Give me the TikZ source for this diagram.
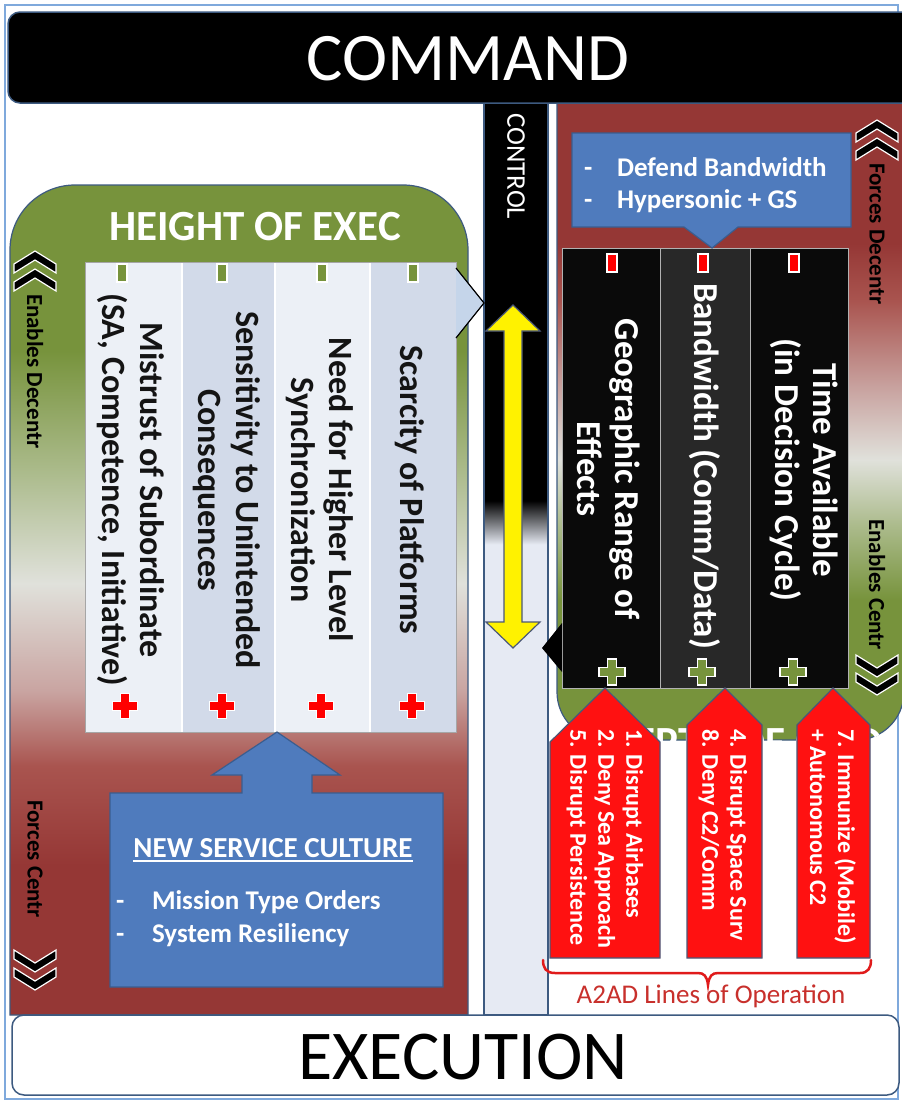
\documentclass[tikz,border=0pt]{standalone}
\usepackage{fontspec}
\setmainfont{Carlito}

\definecolor{dred}{HTML}{953735}
\definecolor{midred}{HTML}{A9544F}
\definecolor{pinkish}{HTML}{C9A4A1}
\definecolor{pale}{HTML}{E0E1DB}
\definecolor{lightgreen}{HTML}{ADBC8E}
\definecolor{pgreen}{HTML}{77933C}
\definecolor{stripbg}{HTML}{E6EAF3}
\definecolor{framecol}{HTML}{7FA9DC}
\definecolor{edgeblue}{HTML}{3D5A80}
\definecolor{boxblue}{HTML}{4F7BBD}
\definecolor{boxedge}{HTML}{3A5D8F}
\definecolor{arrowred}{HTML}{FF1111}
\definecolor{arrowedge}{HTML}{4B5878}
\definecolor{bracered}{HTML}{E01B1B}
\definecolor{labelred}{HTML}{C8302C}
\definecolor{colA}{HTML}{ECF0F6}
\definecolor{colB}{HTML}{D2DAE9}
\definecolor{tipblue}{HTML}{C5D5EA}
\definecolor{rblack}{HTML}{0A0A0A}
\definecolor{rgray}{HTML}{282828}
\definecolor{darktext}{HTML}{141414}

% vertical colour runs of the two panels and of the control strip
\pgfdeclareverticalshading{leftpanel}{100bp}{color(0bp)=(dred); color(34bp)=(dred); color(40bp)=(midred); color(44.5bp)=(pinkish); color(51bp)=(pale); color(57.5bp)=(lightgreen); color(65bp)=(pgreen); color(100bp)=(pgreen)}
\pgfdeclareverticalshading{rightpanel}{100bp}{color(0bp)=(pgreen); color(36bp)=(pgreen); color(42bp)=(lightgreen); color(47bp)=(pale); color(52.5bp)=(pinkish); color(59.5bp)=(midred); color(64bp)=(dred); color(100bp)=(dred)}
\pgfdeclareverticalshading{controlstrip}{100bp}{color(0bp)=(stripbg); color(50.8bp)=(stripbg); color(53.2bp)=(black); color(100bp)=(black)}

\newcommand\fsz[2]{\fontsize{#1}{#2}\selectfont}

\tikzset{
  every node/.style={inner sep=0pt, outer sep=0pt},
  vtext/.style={rotate=-90},
  lefttab/.style={vtext, align=center, text=darktext, font=\bfseries\fsz{34}{38}},
  righttab/.style={vtext, align=center, text=white, font=\bfseries\fsz{35}{38}},
  arrowtext/.style={vtext, align=left, anchor=west, text=white, font=\bfseries\fsz{24}{28}},
  sidetext/.style={vtext, text=black, font=\bfseries\fsz{23}{26}},
  bluebox/.style={fill=boxblue, draw=boxedge, line width=1.2pt},
  redarrow/.style={fill=arrowred, draw=arrowedge, line width=1.2pt},
  pics/plusmark/.style={code={
    \filldraw[fill=#1, draw=white, line width=1.4pt]
      (-4.5,-13) -- (4.5,-13) -- (4.5,-4.5) -- (13,-4.5) -- (13,4.5) -- (4.5,4.5)
      -- (4.5,13) -- (-4.5,13) -- (-4.5,4.5) -- (-13,4.5) -- (-13,-4.5) -- (-4.5,-4.5) -- cycle;}},
  pics/barmark/.style={code={
    \filldraw[fill=#1, draw=white, line width=1.4pt] (-5,-9) rectangle (5,9);}},
  pics/chevup/.style={code={
    \filldraw[fill=black, draw=white, line width=1.2pt]
      (0,0) -- (21,13) -- (21,22) -- (0,9) -- (-21,22) -- (-21,13) -- cycle;}},
  pics/chevdown/.style={code={
    \filldraw[fill=black, draw=white, line width=1.2pt]
      (0,0) -- (21,-13) -- (21,-22) -- (0,-9) -- (-21,-22) -- (-21,-13) -- cycle;}},
}

\begin{document}
\begin{tikzpicture}[x=1pt,y=-1pt]
\useasboundingbox (0,0) rectangle (902,1103);
\clip (0,0) rectangle (902,1103);
\fill[white] (0,0) rectangle (902,1103);
\draw[framecol, line width=1.5pt] (5,5) rectangle (898,1099);

% ---------- panels ----------
\shadedraw[shading=leftpanel, draw=edgeblue, line width=1.2pt]
  (10,1015) -- (10,250) .. controls (10,214) and (39,185) .. (75,185)
  -- (403,185) .. controls (439,185) and (468,214) .. (468,250) -- (468,1015) -- cycle;

\shadedraw[shading=rightpanel, draw=edgeblue, line width=1.2pt]
  (557,103) -- (557,692) .. controls (557,718.5) and (578.5,740) .. (605,740)
  -- (856,740) .. controls (882.5,740) and (904,718.5) .. (904,692) -- (904,103) -- cycle;

\begin{scope}
  \clip (557,103) -- (557,692) .. controls (557,718.5) and (578.5,740) .. (605,740)
    -- (856,740) .. controls (882.5,740) and (904,718.5) .. (904,692) -- (904,103) -- cycle;
  \node[text=white, font=\bfseries\fsz{43}{48}, anchor=base] (depthcmd) at (745,756) {DEPTH OF CMD};
\end{scope}

\shadedraw[shading=controlstrip, draw=edgeblue, line width=1.2pt] (484,103) rectangle (548,1015);

% ---------- command / execution bars ----------
\draw[fill=black, draw=edgeblue, line width=1.5pt, rounded corners=12pt] (8,12) rectangle (930,103);
\node[text=white, font=\fsz{68}{72}, anchor=base] (command) at (468,80) {COMMAND};

\draw[fill=white, draw=edgeblue, line width=1.5pt, rounded corners=12pt] (12,1015) rectangle (899,1095);
\node[text=black, font=\fsz{70}{74}, anchor=base] (execution) at (463,1079) {EXECUTION};

\node[vtext, text=white, font=\fsz{27}{30}, anchor=west] (control) at (516,113) {CONTROL};

% ---------- left side ----------
\node[text=white, font=\bfseries\fsz{43}{48}, anchor=base] (heightexec) at (255,240) {HEIGHT OF EXEC};

\fill[colA] (85,262) rectangle (182,732);
\fill[colB] (182,262) rectangle (275,732);
\fill[colA] (275,262) rectangle (370,732);
\fill[colB] (370,262) rectangle (456,732);
\draw[white, line width=1.5pt] (182,262) -- (182,732) (275,262) -- (275,732) (370,262) -- (370,732);
\draw[gray!70, line width=1pt] (85,262) rectangle (456,732);
\filldraw[fill=tipblue, draw=black, line width=1.2pt] (456,268) -- (484,303) -- (456,338);

\pic at (122,273) {barmark=pgreen};
\pic at (222,273) {barmark=pgreen};
\pic at (322,273) {barmark=pgreen};
\pic at (413,273) {barmark=pgreen};
\pic[scale=0.95] at (125,706) {plusmark=red};
\pic[scale=0.95] at (222,706) {plusmark=red};
\pic[scale=0.95] at (321,706) {plusmark=red};
\pic[scale=0.95] at (412,706) {plusmark=red};

\node[lefttab] (mistrust) at (131,490) {Mistrust of Subordinate\\(SA, Competence, Initiative)};
\node[lefttab] (sensitivity) at (227,490) {Sensitivity to Unintended\\Consequences};
\node[lefttab] (needsync) at (320,490) {Need for Higher Level\\Synchronization};
\node[lefttab] (scarcity) at (410,490) {Scarcity of Platforms};

\filldraw[bluebox] (110,793) -- (242,793) -- (242,775) -- (212,775) -- (277,732) -- (340,775)
  -- (312,775) -- (312,793) -- (443,793) -- (443,987) -- (110,987) -- cycle;
\node[text=white, font=\bfseries\fsz{29}{32}, anchor=base] (newculture) at (273,857) {NEW SERVICE CULTURE};
\draw[white, line width=1.5pt] ([yshift=-4pt]newculture.base west) -- ([yshift=-4pt]newculture.base east);
\node[text=white, font=\bfseries\fsz{27}{32}, anchor=base west] (dashA) at (116,909) {-};
\node[text=white, font=\bfseries\fsz{27}{32}, anchor=base west] (mission) at (152,909) {Mission Type Orders};
\node[text=white, font=\bfseries\fsz{27}{32}, anchor=base west] (dashB) at (116,942) {-};
\node[text=white, font=\bfseries\fsz{27}{32}, anchor=base west] (resiliency) at (152,942) {System Resiliency};

% ---------- right side ----------
\fill[rblack] (562,248) rectangle (660,688);
\fill[rgray] (660,248) rectangle (750,688);
\fill[rblack] (750,248) rectangle (848,688);
\draw[gray!60, line width=1pt] (562,248) rectangle (848,688) (660,248) -- (660,688) (750,248) -- (750,688);
\fill[black] (562,623) -- (542,648) -- (562,672) -- cycle;

\filldraw[bluebox] (572,133) -- (851,133) -- (851,227) -- (738,227) -- (712,248) -- (684,227) -- (572,227) -- cycle;
\node[text=white, font=\bfseries\fsz{27}{32}, anchor=base west] (dashC) at (584,176) {-};
\node[text=white, font=\bfseries\fsz{27}{32}, anchor=base west] (defend) at (617,176) {Defend Bandwidth};
\node[text=white, font=\bfseries\fsz{27}{32}, anchor=base west] (dashD) at (584,208) {-};
\node[text=white, font=\bfseries\fsz{27}{32}, anchor=base west] (hypersonic) at (617,208) {Hypersonic + GS};

\pic at (612,263) {barmark=red};
\pic at (703,263) {barmark=red};
\pic at (794,263) {barmark=red};

\node[righttab] (georange) at (609,469) {Geographic Range of\\Effects};
\node[righttab] (bandwidth) at (705,466) {Bandwidth (Comm/Data)};
\node[righttab] (timeavail) at (804,470) {Time Available\\(in Decision Cycle)};

\pic at (612,672) {plusmark=pgreen};
\pic at (702,672) {plusmark=pgreen};
\pic at (793,672) {plusmark=pgreen};

% ---------- control double arrow ----------
\filldraw[fill=yellow, draw=arrowedge, line width=1.2pt]
  (513,305) -- (540,331) -- (522,331) -- (522,622) -- (540,622) -- (513,648)
  -- (486,622) -- (504,622) -- (504,331) -- (486,331) -- cycle;

% ---------- A2AD lines of operation ----------
\filldraw[redarrow] (605,688) -- (660,742) -- (660,958) -- (550,958) -- (550,742) -- cycle;
\filldraw[redarrow] (725,688) -- (762,725) -- (762,958) -- (687,958) -- (687,725) -- cycle;
\filldraw[redarrow] (833,688) -- (870,725) -- (870,958) -- (797,958) -- (797,725) -- cycle;

\node[arrowtext] (loA) at (605,729) {1. Disrupt Airbases\\2. Deny Sea Approach\\5. Disrupt Persistence};
\node[arrowtext] (loB) at (723,729) {4. Disrupt Space Surv\\8. Deny C2/Comm};
\node[arrowtext] (loC) at (833,729) {7. Immunize (Mobile)\\+ Autonomous C2};

\draw[bracered, line width=2.5pt, line cap=round]
  (543,960) .. controls (543,968) and (546,973) .. (555,973) -- (698,973)
  .. controls (704,973) and (707,976) .. (708,985)
  .. controls (709,976) and (712,973) .. (718,973) -- (860,973)
  .. controls (868,973) and (871,968) .. (871,960);
\node[text=labelred, font=\fsz{27}{30}, anchor=base] (a2ad) at (711,1003) {A2AD Lines of Operation};

% ---------- side labels ----------
\pic at (35,251) {chevup};
\pic at (35,269) {chevup};
\node[sidetext, anchor=west] (enablesdecentr) at (35,294) {Enables Decentr};
\node[sidetext, anchor=west] (forcescentr) at (35,800) {Forces Centr};
\pic at (35,972) {chevdown};
\pic at (35,990) {chevdown};

\pic at (877,120) {chevup};
\pic at (877,138) {chevup};
\node[sidetext, anchor=west] (forcesdecentr) at (877,163) {Forces Decentr};
\node[sidetext, anchor=east] (enablescentr) at (877,650) {Enables Centr};
\pic at (877,677) {chevdown};
\pic at (877,695) {chevdown};
\end{tikzpicture}
\end{document}
